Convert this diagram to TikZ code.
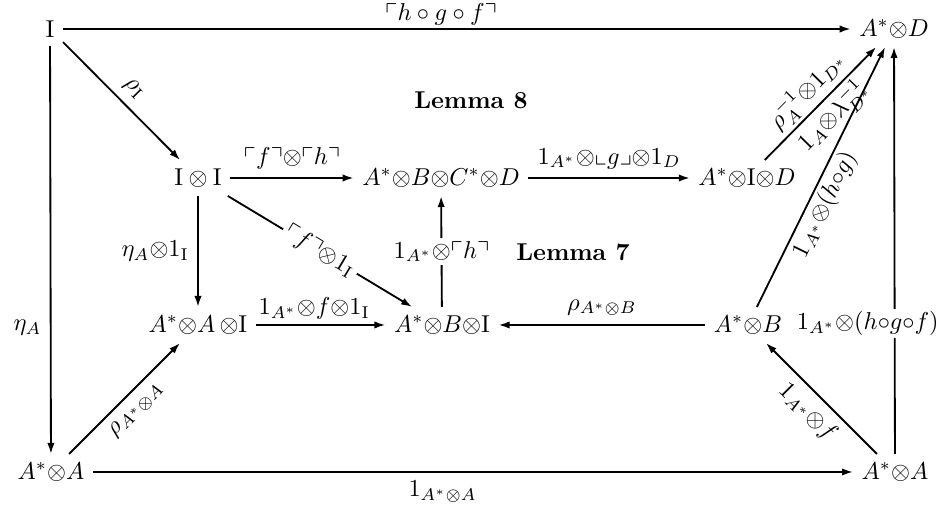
\documentclass[tikz,border=0pt]{standalone}
\usepackage{amsmath,amssymb}
\usetikzlibrary{arrows.meta}
\begin{document}
\begin{tikzpicture}[x=0.41pt,y=0.41pt,
  ar/.style={-{Latex[length=4.5pt,width=3pt]}, line width=0.75pt},
  lemma/.style={font=\bfseries},
  tl/.style={inner sep=1.2pt}]
\useasboundingbox (0,0) rectangle (945,-508);
% nodes
\node (I) at (50,-29) {$\mathrm{I}$};
\node (AD) at (894,-29) {$A^*{\otimes}D$};
\node (II) at (198,-178) {$\mathrm{I}\otimes\mathrm{I}$};
\node (ABCD) at (441,-178) {$A^*{\otimes}B{\otimes}C^*{\otimes}D$};
\node (AID) at (747,-178) {$A^*{\otimes}\mathrm{I}{\otimes}D$};
\node (AAI) at (198,-325) {$A^*{\otimes}A\,{\otimes}\mathrm{I}$};
\node (ABI) at (442,-325) {$A^*{\otimes}B{\otimes}\mathrm{I}$};
\node (AB) at (748,-325) {$A^*{\otimes}B$};
\node (AAl) at (51,-472) {$A^*{\otimes}A$};
\node (AAr) at (895,-472) {$A^*{\otimes}A$};
\node[lemma] (L8) at (471,-100) {Lemma 8};
\node[lemma] (L7) at (573,-252) {Lemma 7};
% arrows
\draw[ar] (I) -- node[above,inner sep=1pt,pos=0.48]{$\ulcorner h\circ g\circ f\urcorner$} (AD);
\draw[ar] (I) -- node[left,pos=0.69]{$\eta_A$} (AAl);
\draw[ar] (I) -- node[above,sloped]{$\rho_{\mathrm{I}}$} (II);
\draw[ar] (II) -- node[above]{$\ulcorner f\urcorner{\otimes}\ulcorner h\urcorner$} (ABCD);
\draw[ar] (ABCD) -- node[above]{$1_{A^*}{\otimes}\llcorner g\lrcorner{\otimes}1_D$} (AID);
\draw[ar] (AID) -- node[above,sloped,tl]{$\rho_A^{-1}{\otimes}1_{D^*}$} node[below,sloped,tl]{$1_A{\otimes}\lambda_{D^*}^{-1}$} (AD);
\draw[ar] (AB) -- node[below,sloped,pos=0.42,tl]{$1_{A^*}{\otimes}(h{\circ}g)$} (AD);
\draw[ar] (AAr) -- node[pos=0.32,fill=white,xshift=-11pt,inner sep=1pt]{$1_{A^*}{\otimes}(h{\circ}g{\circ}f)$} (AD);
\draw[ar] (II) -- node[left]{$\eta_A{\otimes}1_{\mathrm{I}}$} (AAI);
\draw[ar] (II) -- node[sloped,fill=white,inner sep=1.5pt]{$\ulcorner f\urcorner{\otimes}1_{\mathrm{I}}$} (ABI);
\draw[ar] (ABI) -- node[fill=white,inner sep=1.5pt]{$1_{A^*}{\otimes}\ulcorner h\urcorner$} (ABCD);
\draw[ar] (AAI) -- node[above,pos=0.45,inner sep=2pt]{$1_{A^*}{\otimes}f{\otimes}1_{\mathrm{I}}$} (ABI);
\draw[ar] (AB) -- node[above]{$\rho_{A^*\otimes B}$} (ABI);
\draw[ar] (AAl) -- node[below,sloped]{$\rho_{A^*\otimes A}$} (AAI);
\draw[ar] (AAl) -- node[below,pos=0.46]{$1_{A^*\otimes A}$} (AAr);
\draw[ar] (AAr) -- node[below,sloped]{$1_{A^*}{\otimes}f$} (AB);
\end{tikzpicture}
\end{document}
